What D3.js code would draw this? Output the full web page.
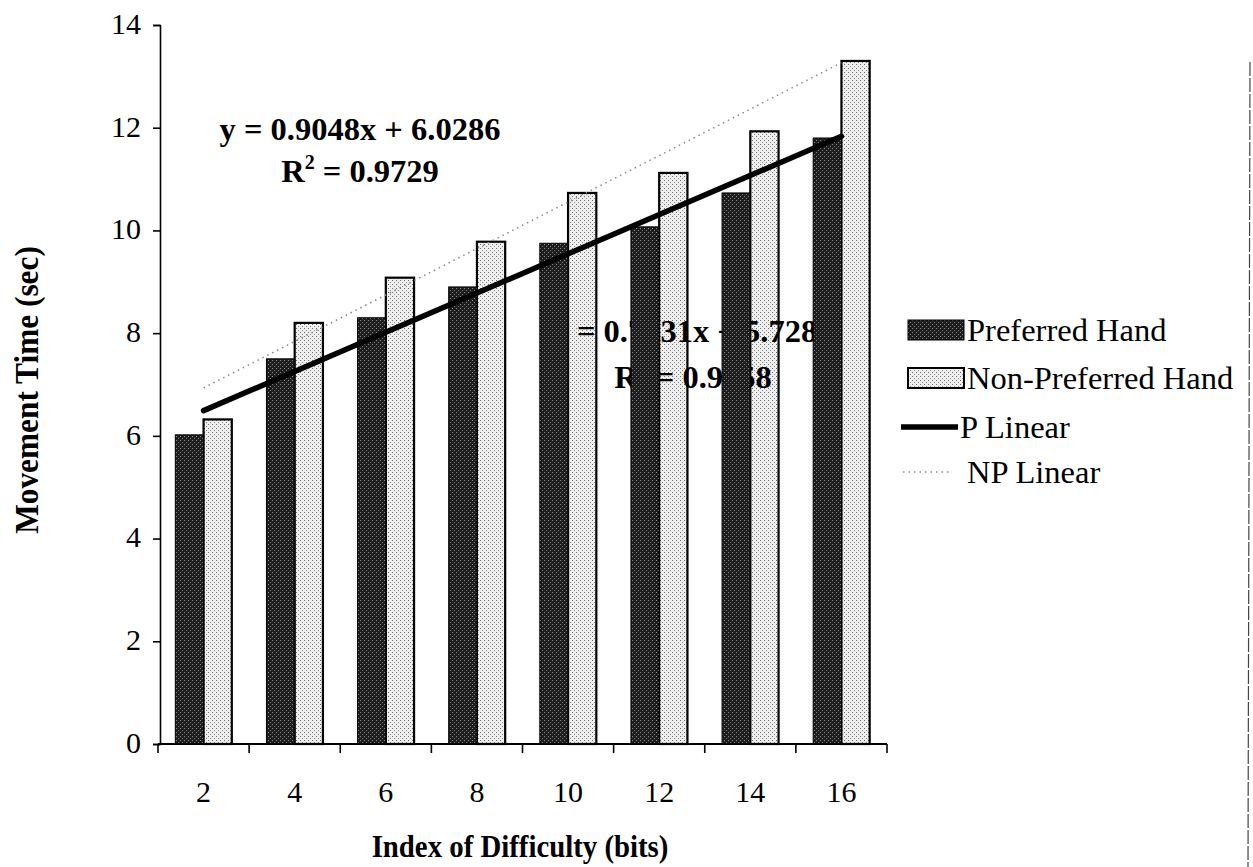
<!DOCTYPE html>
<html>
<head>
<meta charset="utf-8">
<script src="https://cdn.jsdelivr.net/npm/d3@7"></script>
<style>
  html, body { margin: 0; padding: 0; background: #fff; }
  svg { display: block; }
  text { font-family: "Liberation Serif", "Times New Roman", serif; fill: #000; }
</style>
</head>
<body>
<svg id="chart" width="1253" height="867"></svg>
<script>
// ---- data ----
const categories = ["2", "4", "6", "8", "10", "12", "14", "16"];
const preferredHand = [6.02, 7.5, 8.3, 8.9, 9.75, 10.07, 10.73, 11.8];
const nonPreferredHand = [6.32, 8.2, 9.08, 9.78, 10.73, 11.12, 11.93, 13.3];
const yTickValues = [0, 2, 4, 6, 8, 10, 12, 14];
const seriesNames = ["Preferred Hand", "Non-Preferred Hand"];
const trendNames = ["P Linear", "NP Linear"];
const trendSlopes = [0.7631, 0.9048];
const trendIntercepts = [5.7286, 6.0286];
const trendEquations = ["y = 0.7631x + 5.7286", "y = 0.9048x + 6.0286"];
const trendR2 = ["0.9758", "0.9729"];
const xTitle = "Index of Difficulty (bits)";
const yTitle = "Movement Time (sec)";

// ---- layout ----
const svg = d3.select("#chart");
const plot = { left: 158, right: 887, top: 25, bottom: 744 };

const defs = svg.append("defs");
const dp = defs.append("pattern").attr("id", "darkPat").attr("patternUnits", "userSpaceOnUse")
  .attr("width", 4).attr("height", 4);
dp.append("rect").attr("width", 4).attr("height", 4).attr("fill", "#1e1e1e");
dp.append("rect").attr("x", 0).attr("y", 0).attr("width", 1).attr("height", 1).attr("fill", "#8a8a8a");
dp.append("rect").attr("x", 2).attr("y", 2).attr("width", 1).attr("height", 1).attr("fill", "#7a7a7a");

const lp = defs.append("pattern").attr("id", "lightPat").attr("patternUnits", "userSpaceOnUse")
  .attr("width", 4).attr("height", 4);
lp.append("rect").attr("width", 4).attr("height", 4).attr("fill", "#eeeeee");
lp.append("rect").attr("x", 0).attr("y", 0).attr("width", 1).attr("height", 1).attr("fill", "#6a6a6a");
lp.append("rect").attr("x", 2).attr("y", 2).attr("width", 1).attr("height", 1).attr("fill", "#8a8a8a");

const x = d3.scaleBand().domain(categories).range([plot.left, plot.right])
  .paddingInner(0.38).paddingOuter(0.19);
const xs = d3.scaleBand().domain(seriesNames).range([0, x.bandwidth()]);
const y = d3.scaleLinear().domain([0, 14]).range([plot.bottom, plot.top]);

const rows = categories.map((c, i) => ({ c, vals: [preferredHand[i], nonPreferredHand[i]] }));

function drawBars(k) {
  const g = svg.append("g");
  rows.forEach(r => {
    const v = r.vals[k];
    g.append("rect")
      .attr("x", x(r.c) + xs(seriesNames[k]))
      .attr("y", y(v))
      .attr("width", xs.bandwidth())
      .attr("height", y(0) - y(v))
      .attr("fill", k === 0 ? "url(#darkPat)" : "url(#lightPat)")
      .attr("stroke", "#000")
      .attr("stroke-width", k === 0 ? 1 : 2.2);
  });
}

function eqLabel(k, p) {
  svg.append("text").attr("x", p.cx).attr("y", p.y1).attr("text-anchor", "middle")
    .attr("font-size", 32.5).attr("font-weight", "bold").text(trendEquations[k]);
  const t = svg.append("text").attr("x", p.cx).attr("y", p.y2).attr("text-anchor", "middle")
    .attr("font-size", 32.5).attr("font-weight", "bold");
  t.append("tspan").text("R");
  t.append("tspan").attr("dy", -13).attr("font-size", 20).text("2");
  t.append("tspan").attr("dy", 13).text(" = " + trendR2[k]);
}

// light bars, then P-equation label, then dark bars (label merges into dark bars as in the scan)
drawBars(1);
eqLabel(0, { cx: 693, y1: 342, y2: 388 });
drawBars(0);

// trend lines
const xc = i => x(categories[i]) + x.bandwidth() / 2;
const n = categories.length;
svg.append("line")
  .attr("x1", xc(0)).attr("y1", y(trendSlopes[1] * 1 + trendIntercepts[1]))
  .attr("x2", xc(n - 1)).attr("y2", y(trendSlopes[1] * n + trendIntercepts[1]))
  .attr("stroke", "#8a8a8a").attr("stroke-width", 1.5).attr("stroke-dasharray", "1.5,4");
svg.append("line")
  .attr("x1", xc(0)).attr("y1", y(trendSlopes[0] * 1 + trendIntercepts[0]))
  .attr("x2", xc(n - 1)).attr("y2", y(trendSlopes[0] * n + trendIntercepts[0]))
  .attr("stroke", "#000").attr("stroke-width", 5.5).attr("stroke-linecap", "round");

eqLabel(1, { cx: 360, y1: 140, y2: 182 });

// y axis
const yAxis = svg.append("g").attr("transform", `translate(${plot.left + 2},0)`)
  .call(d3.axisLeft(y).tickValues(yTickValues).tickSize(7).tickPadding(12).tickFormat(d3.format("d")));
yAxis.select(".domain").attr("stroke", "#000").attr("stroke-width", 1.6);
yAxis.selectAll(".tick line").attr("stroke", "#000").attr("stroke-width", 1.6);
yAxis.selectAll(".tick text").attr("font-size", 30).attr("font-family", "Liberation Serif")
  .attr("fill", "#000").attr("dy", "0.28em");

// x axis
const xAxis = svg.append("g").attr("transform", `translate(0,${plot.bottom})`);
xAxis.append("line").attr("x1", plot.left).attr("x2", plot.right).attr("y1", 0).attr("y2", 0)
  .attr("stroke", "#000").attr("stroke-width", 2);
const bounds = d3.range(n + 1).map(i => plot.left + i * x.step());
xAxis.selectAll("line.tk").data(bounds).join("line").attr("class", "tk")
  .attr("x1", d => d).attr("x2", d => d).attr("y1", 0).attr("y2", 9)
  .attr("stroke", "#000").attr("stroke-width", 1.6);
xAxis.selectAll("text.lbl").data(categories).join("text").attr("class", "lbl")
  .attr("x", d => x(d) + x.bandwidth() / 2).attr("y", 58)
  .attr("text-anchor", "middle").attr("font-size", 30).text(d => d);

// axis titles
svg.append("text").attr("transform", "translate(520,857) scale(0.9,1)").attr("text-anchor", "middle")
  .attr("font-size", 32).attr("font-weight", "bold").text(xTitle);
svg.append("text").attr("transform", "translate(38,390) rotate(-90) scale(0.95,1)").attr("text-anchor", "middle")
  .attr("font-size", 33).attr("font-weight", "bold").text(yTitle);

// legend
const lg = svg.append("g");
const legendY = [330, 378, 427, 472];
[0, 1].forEach(k => {
  lg.append("rect").attr("x", 908).attr("y", legendY[k] - 10).attr("width", 56).attr("height", 20)
    .attr("fill", k === 0 ? "url(#darkPat)" : "url(#lightPat)")
    .attr("stroke", "#000").attr("stroke-width", k === 0 ? 1 : 2);
  lg.append("text").attr("x", 967).attr("y", legendY[k] + 11).attr("font-size", 32.5).text(seriesNames[k]);
});
lg.append("line").attr("x1", 901).attr("x2", 958).attr("y1", legendY[2]).attr("y2", legendY[2])
  .attr("stroke", "#000").attr("stroke-width", 5.5);
lg.append("text").attr("x", 960).attr("y", legendY[2] + 11).attr("font-size", 32.5).text(trendNames[0]);
lg.append("line").attr("x1", 903).attr("x2", 952).attr("y1", legendY[3]).attr("y2", legendY[3])
  .attr("stroke", "#8a8a8a").attr("stroke-width", 1.5).attr("stroke-dasharray", "1.5,4");
lg.append("text").attr("x", 967).attr("y", legendY[3] + 11).attr("font-size", 32.5).text(trendNames[1]);

// scan border at right
svg.append("line").attr("x1", 1250).attr("x2", 1248).attr("y1", 62).attr("y2", 867)
  .attr("stroke", "#444").attr("stroke-width", 1.2).attr("stroke-dasharray", "14,2");
</script>
</body>
</html>
